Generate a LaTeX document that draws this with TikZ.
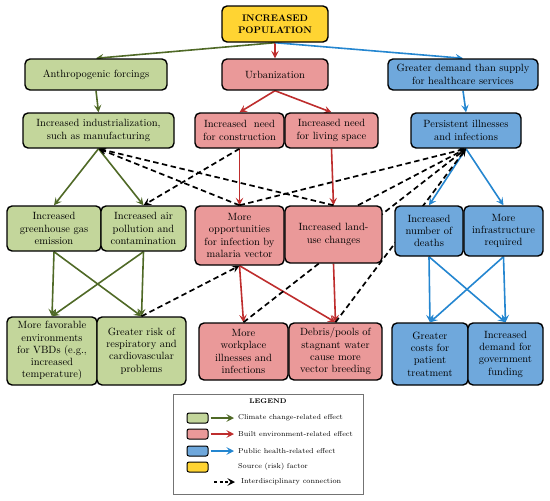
\documentclass[tikz,border=0pt]{standalone}
\usepackage{xcolor}
\usepackage{tikz}
\usetikzlibrary{arrows.meta,backgrounds,calc,positioning}

\definecolor{boxgreen}{RGB}{195,214,155}
\definecolor{boxred}{RGB}{234,153,153}
\definecolor{boxblue}{RGB}{111,168,220}
\definecolor{boxyellow}{RGB}{255,212,50}
\definecolor{arrgreen}{RGB}{79,105,38}
\definecolor{arrred}{RGB}{190,45,45}
\definecolor{arrblue}{RGB}{36,134,208}

\tikzset{
  box/.style={draw=black, line width=1.4pt, rounded corners=5pt, align=center,
    inner sep=1pt, font=\fontsize{10.5}{12.3}\selectfont},
  gbox/.style={box, fill=boxgreen},
  rbox/.style={box, fill=boxred},
  bbox/.style={box, fill=boxblue},
  ybox/.style={box, fill=boxyellow, font=\fontsize{9.5}{12}\selectfont\bfseries},
  garr/.style={->, arrgreen, line width=1.6pt},
  rarr/.style={->, arrred, line width=1.6pt},
  barr/.style={->, arrblue, line width=1.6pt},
  dasharr/.style={->, black, line width=1.7pt, dash pattern=on 5.5pt off 3.5pt},
  swatch/.style={draw=black, line width=1pt, rounded corners=2pt,
    minimum width=21pt, minimum height=10pt, inner sep=0pt},
  legtext/.style={anchor=west, inner sep=0pt, font=\fontsize{7.2}{8}\selectfont},
  >={Stealth[length=7.5pt, width=7.5pt, inset=3pt]}
}

\begin{document}
\begin{tikzpicture}[x=1pt, y=-1pt]

    \useasboundingbox (0,0) rectangle (550,501);

    % Source
    \node[ybox, minimum width=106pt, minimum height=36pt] (pop) at (275,24)
      {INCREASED\\POPULATION};

    % Row 1
    \node[gbox, minimum width=142pt, minimum height=31pt] (anthro) at (96,74.5)
      {Anthropogenic forcings};
    \node[rbox, minimum width=106pt, minimum height=31pt] (urban) at (275,74.5)
      {Urbanization};
    \node[bbox, minimum width=150pt, minimum height=31pt] (demand) at (463,74.5)
      {Greater demand than supply\\for healthcare services};

    % Row 2
    \node[gbox, minimum width=151pt, minimum height=35pt] (indus) at (98.5,130.5)
      {Increased industrialization,\\such as manufacturing};
    \node[rbox, minimum width=89pt, minimum height=35pt] (constr) at (239.5,130.5)
      {Increased\ \ need\\for construction};
    \node[rbox, minimum width=93pt, minimum height=35pt] (living) at (331.5,130.5)
      {Increased need\\for living space};
    \node[bbox, minimum width=110pt, minimum height=35pt] (persist) at (466,130.5)
      {Persistent illnesses\\and infections};

    % Row 3
    \node[gbox, minimum width=94pt, minimum height=45pt] (ghg) at (54,228.5)
      {Increased\\greenhouse gas\\emission};
    \node[gbox, minimum width=85pt, minimum height=45pt] (air) at (143.5,228.5)
      {Increased air\\pollution and\\contamination};
    \node[rbox, minimum width=89pt, minimum height=59pt] (oppor) at (239.5,235.5)
      {More\\opportunities\\for infection by\\malaria vector};
    \node[rbox, minimum width=97pt, minimum height=57pt] (landuse) at (333.5,234.5)
      {Increased land-\\use changes};
    \node[bbox, minimum width=68pt, minimum height=50pt] (deaths) at (429,231)
      {Increased\\number of\\deaths};
    \node[bbox, minimum width=79pt, minimum height=50pt] (infra) at (503.5,231)
      {More\\infrastructure\\required};

    % Row 4
    \node[gbox, minimum width=90pt, minimum height=68pt] (vbd) at (52,351)
      {More favorable\\environments\\for VBDs (e.g.,\\increased\\temperature)};
    \node[gbox, minimum width=89pt, minimum height=68pt] (resp) at (141.5,351)
      {Greater risk of\\respiratory and\\cardiovascular\\problems};
    \node[rbox, minimum width=89pt, minimum height=57pt] (workpl) at (243.5,351.5)
      {More\\workplace\\illnesses and\\infections};
    \node[rbox, minimum width=93pt, minimum height=57pt] (debris) at (335.5,351.5)
      {Debris/pools of\\stagnant water\\cause more\\vector breeding};
    \node[bbox, minimum width=76pt, minimum height=62pt] (costs) at (430,354)
      {Greater\\costs for\\patient\\treatment};
    \node[bbox, minimum width=75pt, minimum height=62pt] (funding) at (505.5,354)
      {Increased\\demand for\\government\\funding};

    \begin{pgfonlayer}{background}
      % Climate change
      \draw[garr] (pop.south) -- (anthro.north);
      \draw[garr] (anthro.south) -- (indus.north);
      \draw[garr] (indus.south) -- (ghg.north);
      \draw[garr] (indus.south) -- (air.north);
      \draw[garr] (ghg.south) -- (vbd.north);
      \draw[garr] (ghg.south) -- (resp.north);
      \draw[garr] (air.south) -- (vbd.north);
      \draw[garr] (air.south) -- (resp.north);

      % Built environment
      \draw[rarr] (pop.south) -- (urban.north);
      \draw[rarr] (urban.south) -- (constr.north);
      \draw[rarr] (urban.south) -- (living.north);
      \draw[rarr] (constr.south) -- (oppor.north);
      \draw[rarr] (living.south) -- (landuse.north);
      \draw[rarr] (oppor.south) -- (workpl.north);
      \draw[rarr] (oppor.south) -- (debris.north);
      \draw[rarr] (landuse.south) -- (debris.north);

      % Public health
      \draw[barr] (pop.south) -- (demand.north);
      \draw[barr] (demand.south) -- (persist.north);
      \draw[barr] (persist.south) -- (deaths.north);
      \draw[barr] (persist.south) -- (infra.north);
      \draw[barr] (deaths.south) -- (costs.north);
      \draw[barr] (deaths.south) -- (funding.north);
      \draw[barr] (infra.south) -- (costs.north);
      \draw[barr] (infra.south) -- (funding.north);

      % Interdisciplinary
      \draw[dasharr] (oppor.north) -- (indus.south);
      \draw[dasharr] (landuse.north) -- (indus.south);
      \draw[dasharr] (constr.south) -- (air.north);
      \draw[dasharr] (oppor.north) -- (persist.south);
      \draw[dasharr] (landuse.50) -- (persist.south);
      \draw[dasharr] (workpl.north) -- (persist.south);
      \draw[dasharr] (debris.north) -- (persist.south);
      \draw[dasharr] (resp.north) -- (oppor.south);
    \end{pgfonlayer}

    % Legend
    \node[draw=black!55, line width=0.8pt, minimum width=190pt, minimum height=100pt]
      (legend) at (268,444) {};
    \node[font=\fontsize{6.8}{8}\selectfont\bfseries] (legtitle) at (268,401) {LEGEND};

    \node[swatch, fill=boxgreen] (sw1) at (197.5,418) {};
    \node[swatch, fill=boxred] (sw2) at (197.5,434) {};
    \node[swatch, fill=boxblue] (sw3) at (197.5,451) {};
    \node[swatch, fill=boxyellow] (sw4) at (197.5,467) {};

    \node[legtext] (lt1) at (238,418) {Climate change-related effect};
    \node[legtext] (lt2) at (238,434) {Built environment-related effect};
    \node[legtext] (lt3) at (238,451) {Public health-related effect};
    \node[legtext] (lt4) at (238,467) {Source (risk) factor};
    \node[legtext] (lt5) at (241,482) {Interdisciplinary connection};

    \draw[garr, line width=1.2pt] ([xshift=2pt]sw1.east) -- ([xshift=-4pt]lt1.west);
    \draw[rarr, line width=1.2pt] ([xshift=2pt]sw2.east) -- ([xshift=-4pt]lt2.west);
    \draw[barr, line width=1.2pt] ([xshift=2pt]sw3.east) -- ([xshift=-4pt]lt3.west);
    \draw[dasharr, line width=1.2pt, dash pattern=on 3pt off 2.5pt]
      ([xshift=-27pt]lt5.west) -- ([xshift=-6pt]lt5.west);

\end{tikzpicture}
\end{document}
